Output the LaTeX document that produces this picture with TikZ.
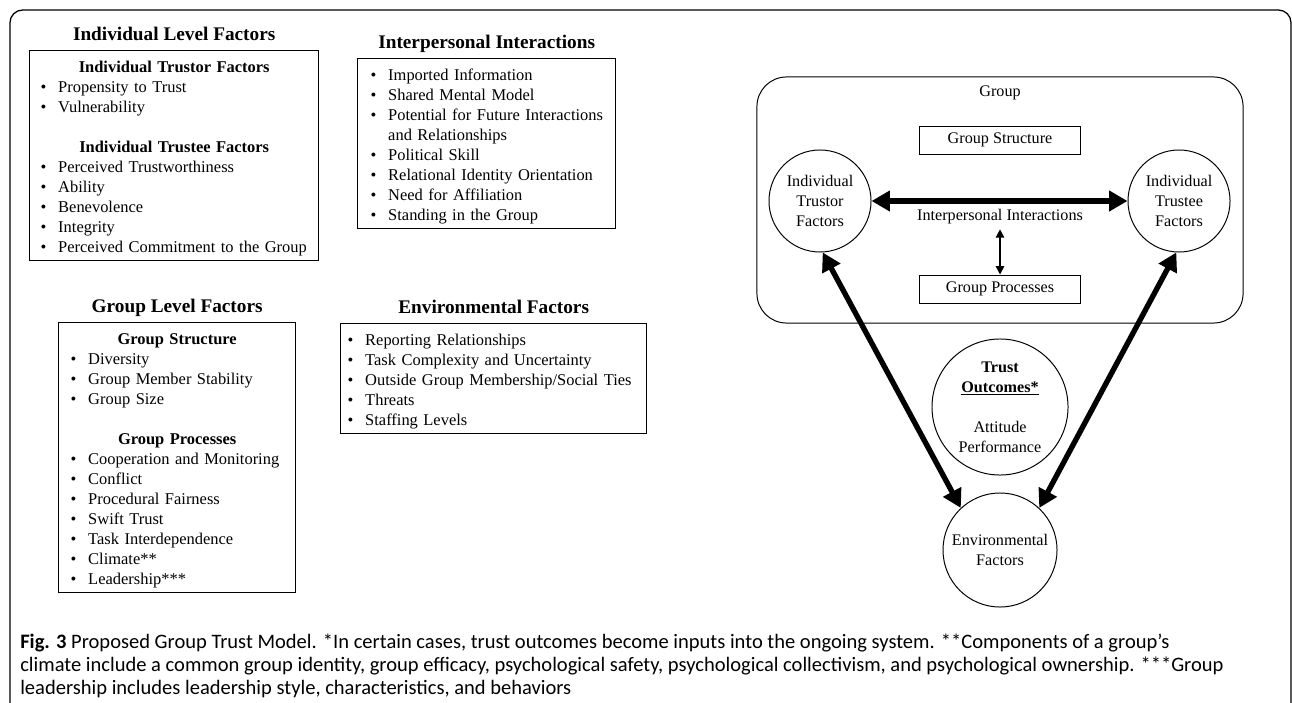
\documentclass[tikz,border=0pt]{standalone}
\usepackage{fontspec}
\setmainfont{Liberation Serif}
\newfontfamily\capfont{Carlito}
\usepackage{tikz}
\usetikzlibrary{arrows.meta, positioning}

\newlength{\bulind}
\setlength{\bulind}{0.44cm}
\newcommand{\bitem}[1]{\par\noindent\makebox[\bulind][l]{\textbullet}\strut\mbox{#1}\par}
\newcommand{\bcont}[1]{\par\noindent\hspace*{\bulind}\strut\mbox{#1}\par}
\newcommand{\subhead}[1]{\par{\noindent\centering\bfseries\strut#1\par}}
\newcommand{\skipline}{\par\noindent\strut\par}

\begin{document}
\begin{tikzpicture}[x=0.025cm, y=-0.025cm,
  box/.style={draw, line width=0.9pt, anchor=north west, align=left, inner ysep=1.5pt, font=\fontsize{11.7}{14.2}\selectfont},
  head/.style={font=\fontsize{13.7}{16}\selectfont\bfseries, inner sep=0pt, text depth=0pt},
  circ/.style={draw, circle, line width=0.7pt, inner sep=0pt, align=center, font=\fontsize{11.5}{14.2}\selectfont},
  rbox/.style={draw, line width=0.7pt, minimum width=4.025cm, minimum height=0.7cm, font=\fontsize{11.5}{14.2}\selectfont},
  bigarrow/.style={line width=3.8pt, {Triangle[length=13pt,width=14pt]}-{Triangle[length=13pt,width=14pt]}},
  thinarrow/.style={line width=1.1pt, {Triangle[length=6pt,width=6pt]}-{Triangle[length=6pt,width=6pt]}}]
  \useasboundingbox (0,0) rectangle (1292,702);
  \clip (0,0) rectangle (1292,702);
  \draw[line width=0.9pt, rounded corners=9pt] (10,740) -- (10,10) -- (1291,10) -- (1291,740);

  \node (ind) [box, text width=6.675cm, inner xsep=0.275cm] at (29,50) {
    \subhead{Individual Trustor Factors}
    \bitem{Propensity to Trust}
    \bitem{Vulnerability}
    \skipline
    \subhead{Individual Trustee Factors}
    \bitem{Perceived Trustworthiness}
    \bitem{Ability}
    \bitem{Benevolence}
    \bitem{Integrity}
    \bitem{Perceived Commitment to the Group}
  };
  \node[head, above=6.8pt of ind] {Individual Level Factors};

  \node (inter) [box, text width=5.8cm, inner xsep=0.325cm] at (357,58) {
    \bitem{Imported Information}
    \bitem{Shared Mental Model}
    \bitem{Potential for Future Interactions}
    \bcont{and Relationships}
    \bitem{Political Skill}
    \bitem{Relational Identity Orientation}
    \bitem{Need for Affiliation}
    \bitem{Standing in the Group}
  };
  \node[head, above=6.8pt of inter] {Interpersonal Interactions};

  \node (grplev) [box, text width=5.325cm, inner xsep=0.3cm] at (58,322) {
    \subhead{Group Structure}
    \bitem{Diversity}
    \bitem{Group Member Stability}
    \bitem{Group Size}
    \skipline
    \subhead{Group Processes}
    \bitem{Cooperation and Monitoring}
    \bitem{Conflict}
    \bitem{Procedural Fairness}
    \bitem{Swift Trust}
    \bitem{Task Interdependence}
    \bitem{Climate**}
    \bitem{Leadership***}
  };
  \node[head, above=6.8pt of grplev] {Group Level Factors};

  \node (envlev) [box, text width=7.3cm, inner xsep=0.175cm] at (340,323) {
    \bitem{Reporting Relationships}
    \bitem{Task Complexity and Uncertainty}
    \bitem{Outside Group Membership/Social Ties}
    \bitem{Threats}
    \bitem{Staffing Levels}
  };
  \node[head, above=6.8pt of envlev] {Environmental Factors};

  \node (grp) [draw, line width=0.7pt, rounded corners=21pt, minimum width=12.15cm, minimum height=6.15cm] at (1000,200) {};
  \node (glab) [font=\fontsize{11.5}{14.2}\selectfont] at (1000,93) {Group};
  \node (gstr) [rbox] at (1000,140) {Group Structure};
  \node (gproc) [rbox] at (1000,289) {Group Processes};
  \node (tor) [circ, minimum size=2.55cm] at (820,201) {Individual\\Trustor\\Factors};
  \node (tee) [circ, minimum size=2.55cm] at (1179,201) {Individual\\Trustee\\Factors};
  \node (iilab) [font=\fontsize{11.5}{14.2}\selectfont] at (1000,217) {Interpersonal Interactions};
  \node (out) [circ, minimum size=3.4cm] at (1000,407) {\textbf{Trust}\\\textbf{\underline{Outcomes*}}\\[14.2pt]Attitude\\Performance};
  \node (env) [circ, minimum size=2.85cm] at (1000,550) {Environmental\\Factors};

  \draw[bigarrow] (tor) -- (tee);
  \draw[thinarrow] (iilab.south) -- (gproc.north);
  \draw[bigarrow] (tor.-87) -- (env.133);
  \draw[bigarrow] (tee.-93) -- (env.47);

  \node (cap) [anchor=north west, align=left, inner sep=0pt, font=\capfont\fontsize{14.6}{16.3}\selectfont] at (20,634) {\textbf{Fig. 3} Proposed Group Trust Model. *In certain cases, trust outcomes become inputs into the ongoing system. **Components of a group’s\\climate include a common group identity, group efficacy, psychological safety, psychological collectivism, and psychological ownership. ***Group\\leadership includes leadership style, characteristics, and behaviors};
\end{tikzpicture}
\end{document}
